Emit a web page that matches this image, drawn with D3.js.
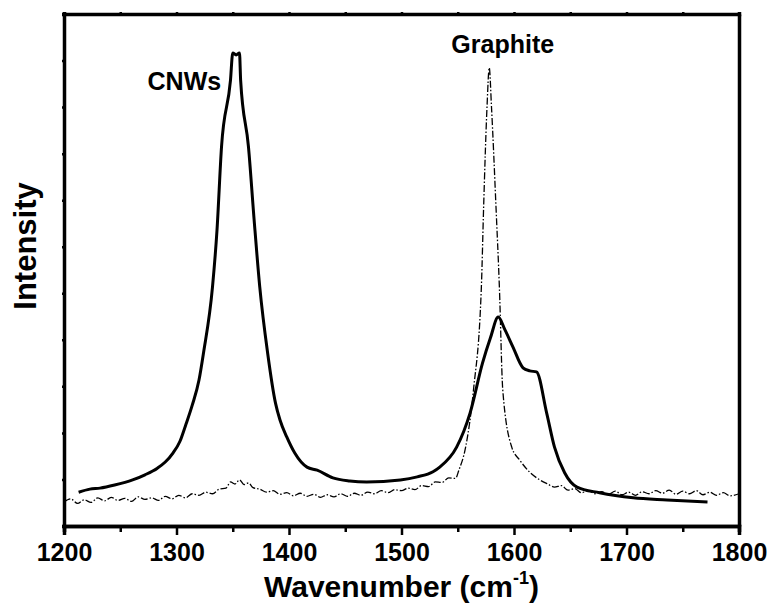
<!DOCTYPE html>
<html>
<head>
<meta charset="utf-8">
<script src="https://cdn.jsdelivr.net/npm/d3@7"></script>
<style>
  body { margin: 0; background: #fff; }
  text { font-family: "Liberation Sans", Arial, sans-serif; font-weight: bold; }
</style>
</head>
<body>
<div id="chart"></div>
<script>
// Raman spectra, CNWs (solid) and graphite (dash-dot)
let xTicks = [1200, 1300, 1400, 1500, 1600, 1700, 1800];
let xMinorTicks = [1250, 1350, 1450, 1550, 1650, 1750];

let cnwWave = [1213, 1223, 1232, 1245, 1261, 1272, 1283, 1290, 1297, 1303, 1308, 1314, 1320, 1324,
  1332, 1336, 1340, 1348, 1350, 1353, 1356, 1357, 1364, 1369, 1374, 1381, 1388, 1392, 1398, 1405,
  1416, 1425, 1439, 1454, 1469, 1499, 1514, 1528, 1534, 1549, 1561, 1572, 1579, 1586, 1592, 1599,
  1608, 1614, 1620, 1629, 1636, 1645, 1656, 1676, 1706, 1736, 1772];
let cnwIntensity = [6.6, 7.2, 7.4, 8.0, 9.0, 10.0, 11.3, 12.5, 14.3, 16.5, 19.6, 23.6, 28.5, 33.8,
  46.7, 57.8, 74.0, 87.1, 92.4, 92.0, 92.4, 87.1, 74.0, 59.8, 46.7, 33.8, 24.0, 20.7, 17.4, 14.3,
  11.5, 10.9, 9.4, 8.8, 8.6, 9.0, 9.6, 10.6, 11.5, 15.4, 22.1, 31.8, 36.7, 40.8, 38.3, 35.0,
  30.9, 30.3, 30.1, 22.1, 15.4, 10.4, 7.6, 6.5, 5.5, 5.1, 4.7];

let graphiteWave = [1200, 1206, 1212, 1218, 1224, 1230, 1236, 1242, 1248, 1254, 1260, 1266, 1272,
  1278, 1284, 1290, 1296, 1302, 1308, 1314, 1320, 1326, 1332, 1338, 1344, 1348, 1352, 1356, 1360,
  1364, 1368, 1374, 1380, 1386, 1392, 1398, 1404, 1410, 1416, 1422, 1428, 1434, 1440, 1446, 1452,
  1458, 1464, 1470, 1476, 1482, 1488, 1494, 1500, 1506, 1512, 1518, 1524, 1530, 1536, 1542, 1548,
  1551, 1557, 1564, 1571, 1573, 1576, 1578, 1580, 1584, 1587, 1590, 1598, 1605, 1614, 1623, 1630,
  1636, 1642, 1648, 1654, 1660, 1666, 1672, 1678, 1684, 1690, 1696, 1702, 1708, 1714, 1720, 1726,
  1732, 1738, 1744, 1750, 1756, 1762, 1768, 1774, 1780, 1786, 1792, 1800];
let graphiteIntensity = [4.7, 5.3, 4.4, 5.1, 4.6, 5.5, 4.9, 5.6, 5.0, 5.4, 4.8, 5.7, 5.2,
  5.5, 5.0, 5.8, 5.3, 6.0, 5.5, 6.3, 6.0, 6.6, 6.3, 7.2, 7.4, 8.6, 8.2, 9.0, 8.1,
  8.4, 7.5, 7.2, 6.6, 6.9, 6.2, 6.5, 5.9, 6.4, 5.8, 6.2, 5.6, 6.1, 5.7, 6.3, 5.8,
  6.4, 6.0, 6.6, 6.3, 6.9, 6.5, 7.1, 6.9, 7.4, 7.1, 7.9, 7.7, 8.6, 8.5, 9.4, 9.3,
  10.9, 15.4, 26.6, 46.7, 62.3, 81.8, 89.5, 81.8, 62.3, 46.7, 26.6, 15.4, 12.9, 10.5, 9.0, 8.2,
  7.6, 7.9, 7.0, 7.3, 6.5, 6.9, 6.3, 6.7, 6.2, 6.8, 6.1, 6.6, 6.0, 6.7, 6.3, 6.9,
  6.4, 7.0, 6.2, 6.8, 6.3, 6.9, 6.1, 6.6, 6.0, 6.5, 5.9, 6.3];

let labels = [
  {text: 'CNWs', wave: 1307, intensity: 85.2},
  {text: 'Graphite', wave: 1590, intensity: 92.4}
];

let width = 771, height = 612;
let margin = {top: 14, right: 32, bottom: 86, left: 64};
let renderWidth = width - margin.left - margin.right;
let renderHeight = height - margin.top - margin.bottom;

let svg = d3.select('#chart').append('svg').attr('width', width).attr('height', height);
let g = svg.append('g').attr('transform', 'translate(' + margin.left + ',' + margin.top + ')');

let xScale = d3.scaleLinear().domain([1200, 1800]).range([0, renderWidth]);
let yScale = d3.scaleLinear().domain([0, 100]).range([renderHeight, 0]);
let yTickVals = d3.range(12).map(i => i * 100 / 11);

// bottom axis, labelled majors + short minors
let xAxis = d3.axisBottom(xScale).tickValues(xTicks).tickSize(9).tickPadding(8).tickFormat(d3.format('d'));
let xMinor = d3.axisBottom(xScale).tickValues(xMinorTicks).tickSize(6).tickFormat('');

g.append('g').attr('class', 'xAxis').attr('transform', 'translate(0,' + renderHeight + ')').call(xAxis);
g.append('g').attr('class', 'xMinor').attr('transform', 'translate(0,' + renderHeight + ')').call(xMinor);
g.append('g').attr('class', 'topAxis')
  .call(d3.axisTop(xScale).tickValues(xTicks.concat(xMinorTicks)).tickSize(2).tickFormat(''));
g.append('g').attr('class', 'yAxis')
  .call(d3.axisLeft(yScale).tickValues(yTickVals).tickSize(2).tickFormat(''));
g.append('g').attr('class', 'yAxisRight').attr('transform', 'translate(' + renderWidth + ',0)')
  .call(d3.axisRight(yScale).tickValues(yTickVals).tickSize(2).tickFormat(''));

g.selectAll('.domain').attr('stroke', '#000').attr('stroke-width', 3.5);
g.selectAll('.tick line').attr('stroke', '#000').attr('stroke-width', 2.5);
g.selectAll('.xAxis .tick text').attr('font-size', 25).attr('fill', '#000')
  .style('font-family', '"Liberation Sans", Arial, sans-serif').style('font-weight', 'bold');

let line = d3.line()
  .curve(d3.curveMonotoneX)
  .x(d => xScale(d[0]))
  .y(d => yScale(d[1]));

g.append('path')
  .datum(graphiteWave.map((w, i) => [w, graphiteIntensity[i]]))
  .attr('d', line)
  .attr('fill', 'none')
  .attr('stroke', '#000')
  .attr('stroke-width', 1.3)
  .attr('stroke-dasharray', '7,2,1.5,2');

g.append('path')
  .datum(cnwWave.map((w, i) => [w, cnwIntensity[i]]))
  .attr('d', line)
  .attr('fill', 'none')
  .attr('stroke', '#000')
  .attr('stroke-width', 3)
  .attr('stroke-linejoin', 'round');

g.selectAll('.peakLabel').data(labels).enter().append('text')
  .attr('class', 'peakLabel')
  .attr('x', d => xScale(d.wave))
  .attr('y', d => yScale(d.intensity))
  .attr('text-anchor', 'middle')
  .attr('font-size', 25)
  .text(d => d.text);

// axis titles
let xTitle = svg.append('text')
  .attr('x', margin.left + renderWidth / 2)
  .attr('y', 597)
  .attr('text-anchor', 'middle')
  .attr('font-size', 30);
xTitle.append('tspan').text('Wavenumber (cm');
xTitle.append('tspan').attr('font-size', 18).attr('dy', -13).text('-1');
xTitle.append('tspan').attr('dy', 13).text(')');

svg.append('text')
  .attr('transform', 'translate(36,' + (margin.top + 232) + ') rotate(-90)')
  .attr('text-anchor', 'middle')
  .attr('font-size', 31)
  .text('Intensity');
</script>
</body>
</html>
